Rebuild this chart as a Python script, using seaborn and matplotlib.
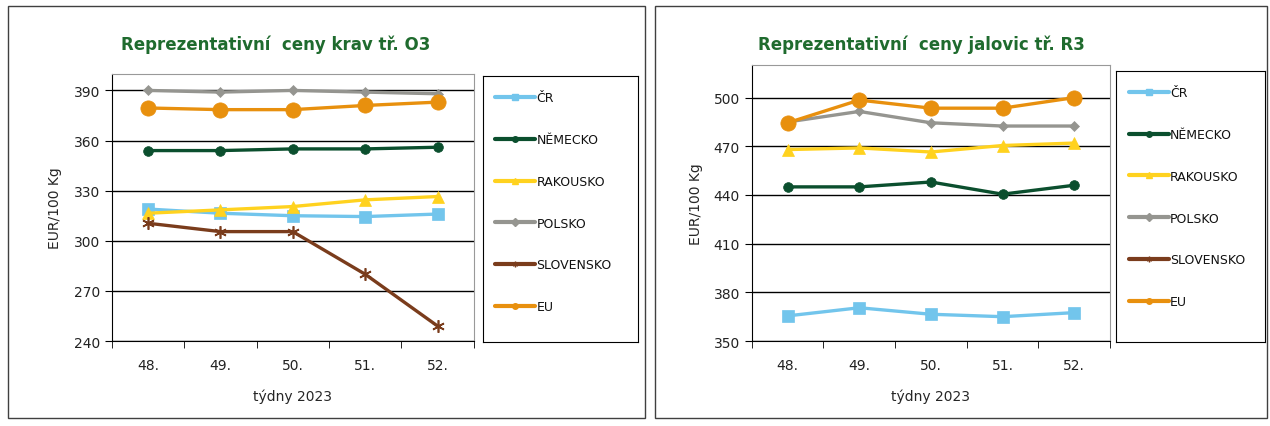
import numpy as np
import pandas as pd
import seaborn as sns
import matplotlib.pyplot as plt
from matplotlib.lines import Line2D
from matplotlib.patches import Rectangle

# tydny
tydny = ['48.', '49.', '50.', '51.', '52.']
zeme = ['ČR', 'NĚMECKO', 'RAKOUSKO', 'POLSKO', 'SLOVENSKO', 'EU']

# krávy O3 (EUR/100 kg)
krav_cr = [319, 316.5, 315, 314.5, 316]
krav_de = [354, 354, 355, 355, 356]
krav_at = [316.5, 318.5, 320.5, 324.5, 326.5]
krav_pl = [390, 389, 390, 389, 388]
krav_sk = [310.5, 305.5, 305.5, 280, 249]
krav_eu = [379.5, 378.5, 378.5, 381, 383]

# jalovice R3 (SK bez udaju)
jal_cr = [365.5, 370.5, 366.5, 365, 367.5]
jal_de = [445, 445, 448, 440.5, 446]
jal_at = [468, 469, 466.5, 470.5, 472]
jal_pl = [485, 491.5, 484.5, 482.5, 482.5]
jal_sk = [np.nan] * 5
jal_eu = [484.5, 498.5, 493.5, 493.5, 500]

barvy = ['#72C5EC', '#0B4F2E', '#FFD21F', '#959590', '#7A3C1C', '#E8900E']
znacky = ['s', 'o', '^', 'D', (6, 2, 0), 'o']
velikosti = [8, 7, 8, 5, 9, 11]

sns.set_style('white')
plt.rcParams['font.family'] = ['DejaVu Sans']

fig = plt.figure(figsize=(12.7, 4.27), dpi=100)

# ramecky panelu
for x0, w in [(0.006, 0.502), (0.516, 0.482)]:
    fig.patches.append(Rectangle((x0, 0.018), w, 0.965, transform=fig.transFigure,
                                 fill=False, edgecolor='#404040', linewidth=1))


def graf(rect, leg_rect, serie, ylim, titul, titul_x):
    ax = fig.add_axes(rect)
    for i, name in enumerate(zeme):
        df = pd.DataFrame({'x': np.arange(5), 'y': serie[i]})
        sns.lineplot(data=df, x='x', y='y', ax=ax, color=barvy[i], linewidth=2.4,
                     marker=znacky[i], markersize=velikosti[i],
                     markeredgecolor=barvy[i], markeredgewidth=1.2 if i == 4 else 0.5)
    ax.set_xlim(-0.5, 4.5)
    ax.set_ylim(*ylim)
    ax.set_yticks(np.arange(ylim[0], ylim[1], 30))
    ax.yaxis.grid(True, color='black', linewidth=1)
    ax.set_xticks(np.arange(5))
    ax.set_xticklabels(tydny)
    ax.set_xticks(np.arange(-0.5, 5, 1), minor=True)
    ax.tick_params(axis='x', which='major', length=0, pad=12, labelsize=10, labelcolor='#222222')
    ax.tick_params(axis='x', which='minor', length=5, direction='out', color='black', bottom=True)
    ax.tick_params(axis='y', length=5, direction='out', color='black', left=True, labelsize=10,
                   labelcolor='#222222')
    for s in ['left', 'bottom']:
        ax.spines[s].set_color('black')
    for s in ['top', 'right']:
        ax.spines[s].set_color('#999999')
    ax.set_xlabel('týdny 2023', fontsize=10, labelpad=12)
    ax.set_ylabel('EUR/100 Kg', fontsize=10, labelpad=8)
    fig.text(titul_x, 0.884, titul, fontsize=12, fontweight='bold', color='#1F6B2E', ha='left')

    handles = [Line2D([], [], color=barvy[i], linewidth=3, marker=znacky[i], markersize=4,
                      markeredgecolor=barvy[i]) for i in range(6)]
    lax = fig.add_axes(leg_rect)
    lax.set_xticks([])
    lax.set_yticks([])
    for s in lax.spines.values():
        s.set_color('black')
    lax.legend(handles, zeme, loc='upper left', bbox_to_anchor=(0.0, 0.99), frameon=False,
               fontsize=9, labelspacing=2.3, handlelength=3.2, handletextpad=0.1,
               borderpad=0.5, labelcolor='#111111')
    return ax


graf([0.088, 0.199, 0.285, 0.626], [0.380, 0.197, 0.122, 0.622],
     [krav_cr, krav_de, krav_at, krav_pl, krav_sk, krav_eu], (240, 400),
     'Reprezentativní  ceny krav tř. O3', 0.095)
graf([0.592, 0.199, 0.282, 0.646], [0.879, 0.197, 0.117, 0.634],
     [jal_cr, jal_de, jal_at, jal_pl, jal_sk, jal_eu], (350, 520),
     'Reprezentativní  ceny jalovic tř. R3', 0.597)

fig.savefig('out.png', dpi=100)
